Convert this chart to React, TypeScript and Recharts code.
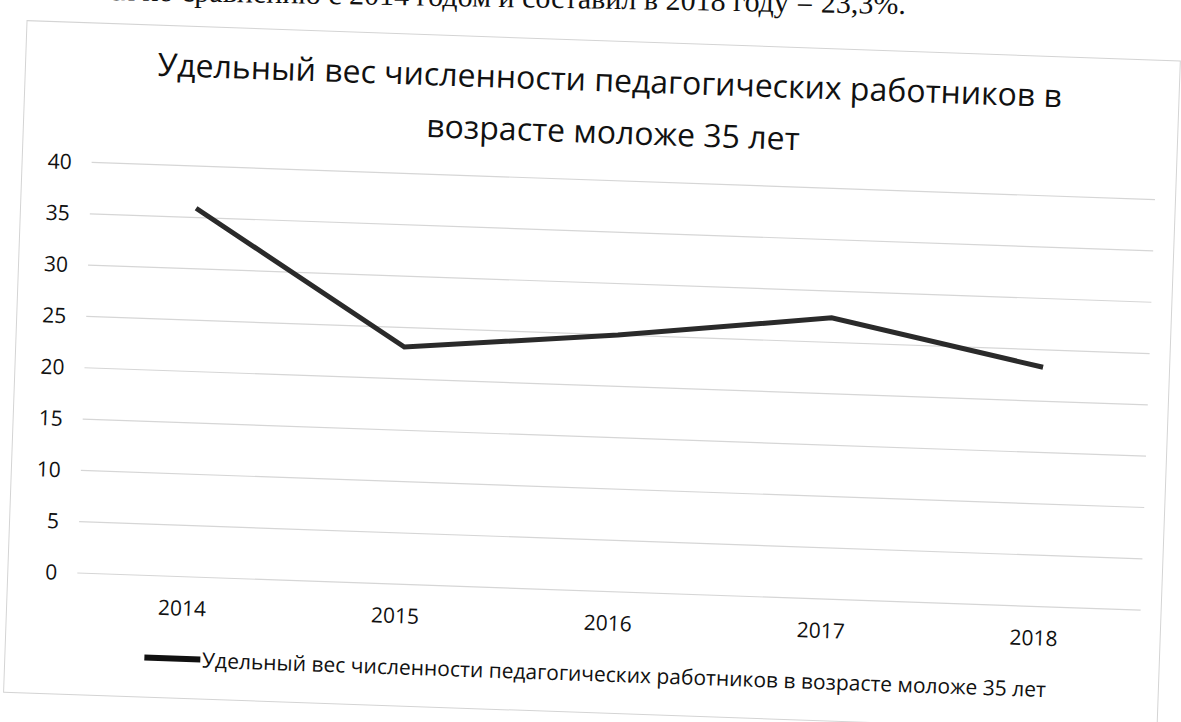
import { LineChart, Line, XAxis, YAxis, CartesianGrid, Legend } from 'recharts'

const years = ['2014', '2015', '2016', '2017', '2018']
const shareUnder35 = [35.9, 23.1, 25.0, 27.4, 23.3]
const yTicks = [0, 5, 10, 15, 20, 25, 30, 35, 40]
const seriesName = 'Удельный вес численности педагогических работников в возрасте моложе 35 лет'
const titleLines = ['Удельный вес численности педагогических работников в', 'возрасте моложе 35 лет']
const pageLine = 'снизился по сравнению с 2014 годом и составил в 2018 году = 23,3%.'

const data = years.map((y, i) => ({ year: y, value: shareUnder35[i] }))

const FONT = '"Open Sans", "Noto Sans", sans-serif'

const LegendContent = () => (
  <div style={{ display: 'flex', alignItems: 'center', justifyContent: 'center', height: 30, paddingLeft: 31, fontFamily: FONT, fontSize: 21, color: '#111' }}>
    <span style={{ display: 'inline-block', width: 56, height: 6, background: '#111', marginRight: 2 }} />
    <span>{seriesName}</span>
  </div>
)

export default function App() {
  return (
    <div style={{ position: 'absolute', left: 0, top: 0, width: 1181, height: 722, background: '#fff', overflow: 'hidden' }}>
      {/* page text above the chart, mostly cut off by the scan */}
      <div style={{ position: 'absolute', left: 0, top: -13, width: 906, textAlign: 'right', fontFamily: '"Liberation Serif", serif', fontSize: 30, lineHeight: '34px', color: '#111', whiteSpace: 'nowrap', transform: 'rotate(1deg)', transformOrigin: '906px 13px' }}>
        {pageLine}
      </div>
      <div style={{ position: 'absolute', left: 0, top: 0, width: 1181, height: 722, transform: 'rotate(2deg)', transformOrigin: '590.5px 361px' }}>
        <div style={{ position: 'absolute', left: 15, top: 40, width: 1155, height: 673, border: '1px solid #d4d4d4', boxSizing: 'border-box' }} />
        {titleLines.map((t, i) => (
          <div key={i} style={{ position: 'absolute', left: 0, width: i === 0 ? 1200 : 1210, top: i === 0 ? 58 : 110, textAlign: 'center', fontFamily: FONT, fontSize: 32, lineHeight: '42px', color: '#111', whiteSpace: 'nowrap' }}>
            {t}
          </div>
        ))}
        <LineChart width={1181} height={722} data={data} margin={{ top: 180, right: 32, bottom: 20, left: 0 }} style={{ position: 'absolute', left: 0, top: 0 }}>
          <CartesianGrid vertical={false} stroke="#d6d6d6" strokeWidth={1.2} />
          <XAxis dataKey="year" height={40} axisLine={false} tickLine={false} tickMargin={18} padding={{ left: 106, right: 106 }} tick={{ fontFamily: FONT, fontSize: 21, fill: '#111' }} />
          <YAxis width={85} domain={[0, 40]} ticks={yTicks} axisLine={false} tickLine={false} tickMargin={14} tick={{ fontFamily: FONT, fontSize: 21, fill: '#111' }} />
          <Legend verticalAlign="bottom" height={30} wrapperStyle={{ left: 0, width: 1181, bottom: 34 }} content={<LegendContent />} />
          <Line type="linear" dataKey="value" name={seriesName} stroke="#2a2a2a" strokeWidth={5} dot={false} isAnimationActive={false} />
        </LineChart>
      </div>
    </div>
  )
}
